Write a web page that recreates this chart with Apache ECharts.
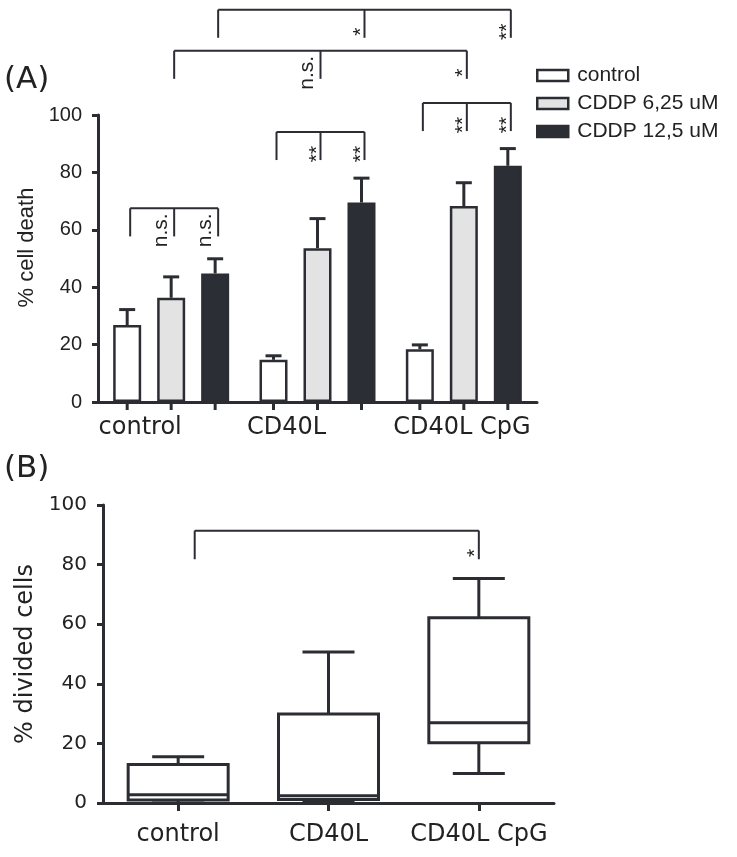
<!DOCTYPE html>
<html><head><meta charset="utf-8">
<script src="https://cdn.jsdelivr.net/npm/echarts@6/dist/echarts.min.js"></script>
<style>html,body{margin:0;padding:0;background:#fff}#c{width:737px;height:857px}</style>
</head><body><div id="c"></div>
<script>
// ---------- data ----------
const categories = ['control', 'CD40L', 'CD40L CpG'];
const deathSeriesNames = ['control', 'CDDP 6,25 uM', 'CDDP 12,5 uM'];
const deathControl = [26.8, 14.7, 18.4];
const deathCddp625 = [36.3, 53.6, 68.3];
const deathCddp125 = [44.8, 69.5, 82.3];
const errControl = [5.4, 1.4, 1.5];
const errCddp625 = [7.3, 10.3, 8.1];
const errCddp125 = [5.1, 8.5, 6.0];
const yTickMax = 100, yTickStep = 20;
// box plot: min, Q1, median, Q3, max
const boxControl = [0, 1.0, 2.8, 12.9, 15.5];
const boxCD40L = [0.5, 1.2, 2.4, 29.9, 50.7];
const boxCpG = [9.9, 20.2, 26.9, 62.2, 75.3];
// significance brackets, panel A: legs = [group, bar]
const sigA = [
  {legs: [[0, 0], [0, 1], [0, 2]], top: 67.5, labels: ['', 'n.s.', 'n.s.']},
  {legs: [[1, 0], [1, 1], [1, 2]], top: 94.1, labels: ['', '**', '**']},
  {legs: [[2, 0], [2, 1], [2, 2]], top: 104.2, labels: ['', '**', '**']},
  {legs: [[0, 1], [1, 1], [2, 1]], top: 122.4, labels: ['', 'n.s.', '*']},
  {legs: [[0, 2], [1, 2], [2, 2]], top: 136.7, labels: ['', '*', '**']}
];
// panel B: legs = [category, offset as fraction of band]
const sigB = [
  {legs: [[0, 0.11], [2, 0.0]], top: 91.4, labels: ['', '*']}
];

// ---------- style ----------
const INK = '#2b2d33';
const TXT = '#222';
const BAR_W = 28, BAR_GAP = '57.1%';
const LEG_DROP_A = 9.8, LEG_DROP_B = 9.6;
const LABEL_SHIFT_A = [-31, -31, -2];

const chart = echarts.init(document.getElementById('c'), null, {renderer: 'canvas'});

function barCenter(api, g, b) {
  const c = api.coord([g, 0])[0];
  let off = null;
  try {
    const lay = api.barLayout ? api.barLayout({barWidth: BAR_W, barGap: BAR_GAP, count: 3}) : null;
    if (lay && lay[b] && isFinite(lay[b].offsetCenter)) off = lay[b].offsetCenter;
  } catch (e) {}
  if (off === null) off = (b - 1) * BAR_W * 1.571;
  return c + off;
}

function sigLabel(text, x, yTop, yBot) {
  const isStar = text.indexOf('*') >= 0;
  return {
    type: 'text',
    x: x + (isStar ? -3.5 : -13),
    y: (yTop + yBot) / 2 + 8,
    rotation: Math.PI / 2,
    style: {
      text: text, fill: TXT,
      fontSize: isStar ? 21 : 21, fontFamily: 'Liberation Sans',
      align: 'center', verticalAlign: 'middle'
    },
    z2: 10
  };
}

function bracketElems(xs, yTop, yBot, labels) {
  const ch = [];
  const lw = 2;
  ch.push({type: 'line', shape: {x1: xs[0], y1: yTop, x2: xs[xs.length - 1], y2: yTop},
           style: {stroke: INK, lineWidth: lw}});
  xs.forEach((x, i) => {
    ch.push({type: 'line', shape: {x1: x, y1: yTop, x2: x, y2: yBot}, style: {stroke: INK, lineWidth: lw}});
    if (labels[i]) ch.push(sigLabel(labels[i], x, yTop, yBot));
  });
  return ch;
}

const means = [deathControl, deathCddp625, deathCddp125];
const errs = [errControl, errCddp625, errCddp125];
const fills = ['#ffffff', '#e3e3e3', '#2b2e35'];

const series = [];
deathSeriesNames.forEach((name, b) => {
  series.push({
    type: 'bar', name: name, xAxisIndex: 0, yAxisIndex: 0,
    data: means[b], barWidth: BAR_W, barGap: BAR_GAP,
    itemStyle: {color: fills[b], borderColor: INK, borderWidth: 2.5},
    z: 2
  });
});
const errData = [];
for (let b = 0; b < 3; b++) for (let g = 0; g < 3; g++) errData.push([g, b, means[b][g], errs[b][g]]);
series.push({
  type: 'custom', name: 'errA', xAxisIndex: 0, yAxisIndex: 0, z: 3,
  encode: {x: 0, y: 2},
  data: errData,
  renderItem: function (params, api) {
    const g = api.value(0), b = api.value(1), m = api.value(2), e = api.value(3);
    const x = barCenter(api, g, b);
    const y0 = api.coord([g, m])[1], y1 = api.coord([g, m + e])[1], yb = api.coord([g, 0])[1];
    const st = {stroke: INK, lineWidth: 3};
    return {type: 'group', children: [
      {type: 'line', shape: {x1: x, y1: y0, x2: x, y2: y1}, style: st},
      {type: 'line', shape: {x1: x - 8, y1: y1, x2: x + 8, y2: y1}, style: st},
      {type: 'line', shape: {x1: x, y1: yb, x2: x, y2: yb + 8}, style: st}
    ]};
  }
});
series.push({
  type: 'custom', name: 'sigA', xAxisIndex: 0, yAxisIndex: 0, z: 4,
  encode: {x: 0, y: 1},
  data: sigA.map(s => [s.legs[0][0], 50]),
  renderItem: function (params, api) {
    const s = sigA[params.dataIndex];
    const xs = s.legs.map(l => barCenter(api, l[0], l[1]) + 3);
    const yTop = api.coord([0, s.top])[1];
    const yBot = api.coord([0, s.top - LEG_DROP_A])[1];
    return {type: 'group', children: bracketElems(xs, yTop, yBot, s.labels)};
  }
});
// Panel B
const boxes = [boxControl, boxCD40L, boxCpG];
series.push({
  type: 'custom', name: 'boxB', xAxisIndex: 1, yAxisIndex: 1, z: 3,
  encode: {x: 0, y: [1, 2, 3, 4, 5]},
  data: boxes.map((bx, i) => [i].concat(bx)),
  renderItem: function (params, api) {
    const i = api.value(0);
    const cx = api.coord([i, 0])[0];
    const w = 100, cw = 26;
    const yy = v => api.coord([i, v])[1];
    const mn = yy(api.value(1)), q1 = yy(api.value(2)), md = yy(api.value(3)), q3 = yy(api.value(4)), mx = yy(api.value(5));
    const st = {stroke: INK, lineWidth: 3, fill: null};
    return {type: 'group', children: [
      {type: 'line', shape: {x1: cx, y1: q3, x2: cx, y2: mx}, style: st},
      {type: 'line', shape: {x1: cx - cw, y1: mx, x2: cx + cw, y2: mx}, style: st},
      {type: 'line', shape: {x1: cx, y1: q1, x2: cx, y2: mn}, style: st},
      {type: 'line', shape: {x1: cx - cw, y1: mn, x2: cx + cw, y2: mn}, style: st},
      {type: 'rect', shape: {x: cx - w / 2, y: q3, width: w, height: q1 - q3}, style: {stroke: INK, lineWidth: 3, fill: '#fff'}},
      {type: 'line', shape: {x1: cx - w / 2, y1: md, x2: cx + w / 2, y2: md}, style: st}
    ]};
  }
});
series.push({
  type: 'custom', name: 'sigB', xAxisIndex: 1, yAxisIndex: 1, z: 4,
  encode: {x: 0, y: 1},
  data: sigB.map(s => [s.legs[0][0], 50]),
  renderItem: function (params, api) {
    const s = sigB[params.dataIndex];
    const band = api.size([1, 0])[0];
    const xs = s.legs.map(l => api.coord([l[0], 0])[0] + l[1] * band);
    const yTop = api.coord([0, s.top])[1];
    const yBot = api.coord([0, s.top - LEG_DROP_B])[1];
    return {type: 'group', children: bracketElems(xs, yTop, yBot, s.labels)};
  }
});

const yAxisBase = (labelFont, labelSize, name, nameFont, nameSize, nameGap, namePad) => ({
  type: 'value', min: 0, max: yTickMax, interval: yTickStep,
  name: name, nameLocation: 'middle', nameGap: nameGap,
  nameTextStyle: {fontFamily: nameFont, fontSize: nameSize, color: TXT, padding: namePad},
  axisLine: {show: true, lineStyle: {color: INK, width: 3}},
  axisTick: {show: true, length: 6, lineStyle: {color: INK, width: 3}},
  axisLabel: {fontFamily: labelFont, fontSize: labelSize, color: TXT, margin: 16},
  splitLine: {show: false}
});

const richA = {};
LABEL_SHIFT_A.forEach((s, i) => {
  richA['s' + i] = {fontFamily: 'DejaVu Sans', fontSize: 24, color: TXT,
    padding: s < 0 ? [0, -2 * s, 0, 0] : [0, 0, 0, 2 * s]};
});

const option = {
  animation: false,
  backgroundColor: '#fff',
  title: [
    {text: '(A)', left: 4, top: 64, padding: 0, textStyle: {fontFamily: 'DejaVu Sans', fontSize: 31, fontWeight: 'normal', color: TXT}},
    {text: '(B)', left: 4, top: 453, padding: 0, textStyle: {fontFamily: 'DejaVu Sans', fontSize: 31, fontWeight: 'normal', color: TXT}}
  ],
  legend: {
    orient: 'vertical', left: 536, top: 65, padding: 0, selectedMode: false,
    data: deathSeriesNames, icon: 'rect', itemWidth: 31, itemHeight: 11, itemGap: 7,
    itemStyle: {borderColor: INK, borderWidth: 2.5},
    textStyle: {fontFamily: 'Liberation Sans', fontSize: 21, color: TXT, lineHeight: 21, padding: [0, 0, 0, 4]}
  },
  grid: [
    {left: 98, top: 115, width: 439, height: 287, containLabel: false},
    {left: 103, top: 505, width: 451, height: 298, containLabel: false}
  ],
  xAxis: [
    {type: 'category', gridIndex: 0, data: categories,
     axisLine: {lineStyle: {color: INK, width: 3}}, axisTick: {show: false},
     axisLabel: {interval: 0, fontFamily: 'DejaVu Sans', fontSize: 24, color: TXT, margin: 14,
       formatter: (v, i) => '{s' + i + '|' + v + '}', rich: richA}},
    {type: 'category', gridIndex: 1, data: categories,
     axisLine: {lineStyle: {color: INK, width: 3}},
     axisTick: {show: true, alignWithLabel: true, length: 8, lineStyle: {color: INK, width: 3}},
     axisLabel: {interval: 0, fontFamily: 'DejaVu Sans', fontSize: 24, color: TXT, margin: 20}}
  ],
  yAxis: [
    Object.assign(yAxisBase('Liberation Sans', 20, '% cell death', 'Liberation Sans', 22, 60, [0, 0, 0, 22]), {gridIndex: 0}),
    Object.assign(yAxisBase('DejaVu Sans', 20, '% divided cells', 'DejaVu Sans', 24, 59, [0, 0, 0, 0]), {gridIndex: 1})
  ],
  series: series
};
chart.setOption(option);
</script></body></html>
